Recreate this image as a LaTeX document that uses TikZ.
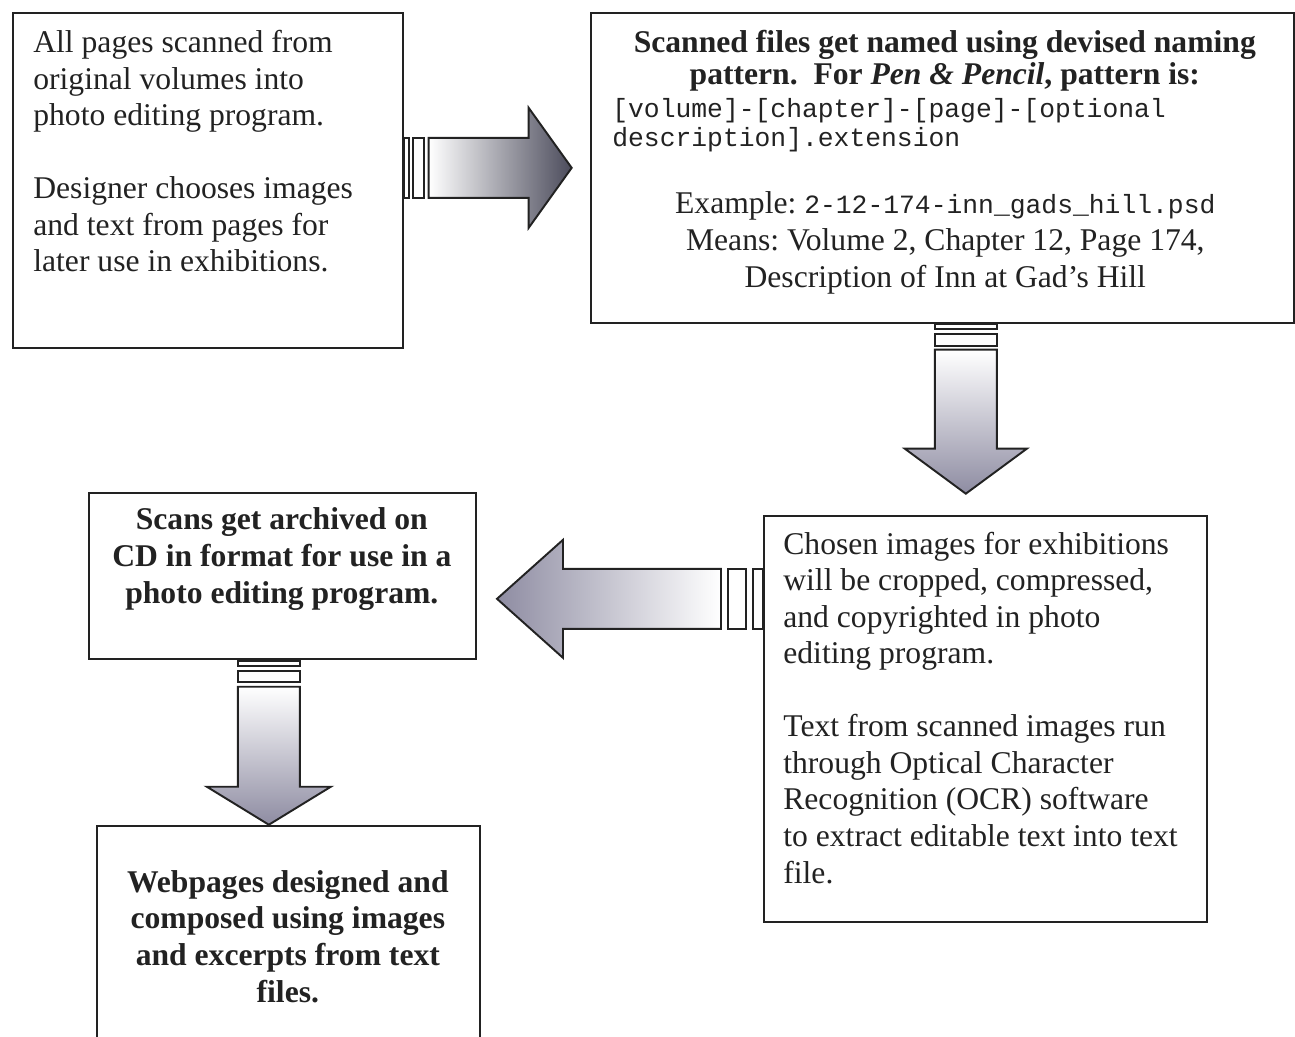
\documentclass[tikz,border=0pt]{standalone}
\usepackage{fontspec}
\setmainfont{Liberation Serif}
\setmonofont{Liberation Mono}
\definecolor{inkgrey}{HTML}{222222}
\definecolor{arrowdark}{HTML}{4C4C5C}
\definecolor{arrowmid}{HTML}{A2A2B0}
\definecolor{arrowgrey}{HTML}{8E8CA2}
\definecolor{arrowlight}{HTML}{E4E4EC}
\tikzset{
  stepbox/.style={draw=inkgrey, line width=1pt, anchor=north west, inner sep=0pt},
  boxtext/.style={inner sep=0pt, text=inkgrey, font=\fontsize{18}{20.8}\selectfont},
  tailbar/.style={draw=inkgrey, line width=1pt, fill=white},
  blockarrow/.style={draw=inkgrey, line width=1.1pt, line join=miter},
}
\frenchspacing
\begin{document}
\begin{tikzpicture}[x=0.02cm, y=-0.02cm]
\useasboundingbox (0,0) rectangle (1295,1037);
\clip (0,0) rectangle (1295,1037);

\node[stepbox, minimum width=7.8cm, minimum height=6.7cm] (scan) at (12,12) {};
\node[stepbox, minimum width=14.06cm, minimum height=6.2cm] (name) at (590,12) {};
\node[stepbox, minimum width=7.74cm, minimum height=3.32cm] (archive) at (88,492) {};
\node[stepbox, minimum width=8.86cm, minimum height=8.12cm] (chosen) at (763,515) {};
\node[stepbox, minimum width=7.66cm, minimum height=5.2cm] (web) at (96,825) {};

\node[boxtext, anchor=base west, align=left] (scantext) at ([shift={(21,260)}]scan.north west) {All pages scanned from\\original volumes into\\photo editing program.\\[20.8pt]Designer chooses images\\and text from pages for\\later use in exhibitions.};
\node[boxtext, anchor=base, align=center, font=\bfseries\fontsize{18}{18.7}\selectfont] (nametitle) at ([shift={(2.5,73)}]name.north) {Scanned files get named using devised naming\\pattern.\ \ For \textit{Pen \& Pencil}, pattern is:};
\node[boxtext, anchor=base west, align=left, font=\ttfamily\fontsize{15}{17}\selectfont] (namepattern) at ([shift={(22,135)}]name.north west) {[volume]-[chapter]-[page]-[optional\\description].extension};
\node[boxtext, anchor=base, align=center, font=\fontsize{18}{21.3}\selectfont] (nameexample) at ([shift={(3,276)}]name.north) {Example: {\ttfamily\fontsize{15}{17}\selectfont 2-12-174-inn\_gads\_hill.psd}\\Means: Volume 2, Chapter 12, Page 174,\\Description of Inn at Gad’s Hill};
\node[boxtext, anchor=base, align=center, font=\bfseries\fontsize{18}{20.8}\selectfont] (archivetext) at ([shift={(-0.5,111)}]archive.north) {Scans get archived on\\CD in format for use in a\\photo editing program.};
\node[boxtext, anchor=base west, align=left] (chosentext) at ([shift={(20,368)}]chosen.north west) {Chosen images for exhibitions\\will be cropped, compressed,\\and copyrighted in photo\\editing program.\\[20.8pt]Text from scanned images run\\through Optical Character\\Recognition (OCR) software\\to extract editable text into text\\file.};
\node[boxtext, anchor=base, align=center, font=\bfseries\fontsize{18}{20.8}\selectfont] (webtext) at ([shift={(-0.5,177)}]web.north) {Webpages designed and\\composed using images\\and excerpts from text\\files.};

\coordinate (t1) at (scan.east |- name.west);
\coordinate (t2) at ([shift={(23.5,0)}]name.south);
\coordinate (t3) at ([shift={(0,-120)}]chosen.west);
\coordinate (t4) at ([shift={(-13.5,0)}]archive.south);

\begin{scope}[shift={(t1)}]
\draw[tailbar] (0,-30) rectangle (5,30);
\draw[tailbar] (9,-30) rectangle (20,30);
\draw[blockarrow, left color=white, middle color=arrowmid, right color=arrowdark] (25,-30) -- (125,-30) -- (125,-60) -- (168,0) -- (125,60) -- (125,30) -- (25,30) -- cycle;
\end{scope}

\begin{scope}[shift={(t2)}]
\draw[tailbar] (-31,0) rectangle (31,5);
\draw[tailbar] (-31,10) rectangle (31,22);
\draw[blockarrow, top color=white, middle color=arrowlight, bottom color=arrowgrey] (-31,26) -- (-31,125) -- (-61,125) -- (0,170) -- (61,125) -- (31,125) -- (31,26) -- cycle;
\end{scope}

\begin{scope}[shift={(t3)}]
\draw[tailbar] (-10,-30) rectangle (0,30);
\draw[tailbar] (-35,-30) rectangle (-17,30);
\draw[blockarrow, left color=arrowgrey, middle color=arrowlight, right color=white] (-42,-30) -- (-200,-30) -- (-200,-59) -- (-266,0) -- (-200,59) -- (-200,30) -- (-42,30) -- cycle;
\end{scope}

\begin{scope}[shift={(t4)}]
\draw[tailbar] (-31,1) rectangle (31,6);
\draw[tailbar] (-31,11) rectangle (31,22);
\draw[blockarrow, top color=white, middle color=arrowlight, bottom color=arrowgrey] (-31,27) -- (-31,127) -- (-62,127) -- (0,165) -- (62,127) -- (31,127) -- (31,27) -- cycle;
\end{scope}
\end{tikzpicture}
\end{document}
